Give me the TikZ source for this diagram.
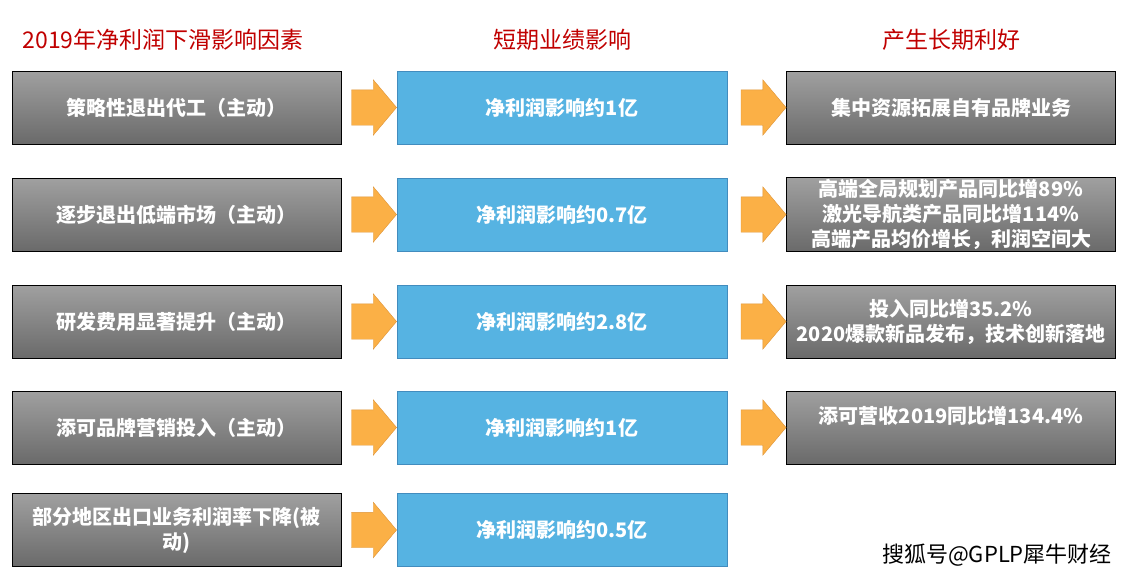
\documentclass[tikz,border=0pt]{standalone}
\usepackage{fontspec}
\setmainfont{Noto Sans CJK SC}
\usetikzlibrary{shapes,arrows.meta,calc,positioning}
\definecolor{headred}{RGB}{192,0,0}
\definecolor{greytop}{RGB}{160,160,160}
\definecolor{greybot}{RGB}{106,106,106}
\definecolor{skyfill}{RGB}{86,179,226}
\definecolor{skyedge}{RGB}{66,140,190}
\definecolor{orangefill}{RGB}{251,176,70}
\definecolor{orangeedge}{RGB}{222,148,56}
\tikzset{
    semithick,
    head/.style = {text=headred, font=\fontsize{23}{28}\selectfont},
    factor/.style = {rectangle, draw=black, top color=greytop, bottom color=greybot,
        minimum width=329pt, minimum height=73pt, inner sep=2pt, align=center,
        text=white, font=\fontsize{20}{25}\selectfont\bfseries},
    impact/.style = {rectangle, draw=skyedge, fill=skyfill,
        minimum width=330pt, minimum height=73pt, inner sep=2pt, align=center,
        text=white, font=\fontsize{20}{25}\selectfont\bfseries},
    fat/.style = {single arrow, draw=orangeedge, fill=orangefill, thin,
        minimum height=45pt, inner xsep=0pt, inner ysep=17.5pt,
        single arrow head extend=10pt, single arrow tip angle=100, anchor=tip},
    mark text/.style = {text=black, font=\fontsize{22}{26}\selectfont}
}

\begin{document}
\begin{tikzpicture}[x=1pt,y=-1pt]
    \useasboundingbox (0,0) rectangle (1140,581);
    \node (h1) at (163,40) [head] {2019年净利润下滑影响因素};
    \node (h2) at (562,40) [head] {短期业绩影响};
    \node (h3) at (951,40) [head] {产生长期利好};

    \node (c1) at (176.5,107.5) [factor] {策略性退出代工（主动）};
    \node (c2) at (176.5,214.5) [factor] {逐步退出低端市场（主动）};
    \node (c3) at (176.5,321.5) [factor] {研发费用显著提升（主动）};
    \node (c4) at (176.5,427.5) [factor] {添可品牌营销投入（主动）};
    \node (c5) at (176.5,530) [factor] {部分地区出口业务利润率下降(被\\动)};

    \node (s1) at (562,107.5) [impact] {净利润影响约1亿};
    \node (s2) at (562,214.5) [impact] {净利润影响约0.7亿};
    \node (s3) at (562,321.5) [impact] {净利润影响约2.8亿};
    \node (s4) at (562,427.5) [impact] {净利润影响约1亿};
    \node (s5) at (562,530) [impact] {净利润影响约0.5亿};

    \node (g1) at (951,107.5) [factor] {集中资源拓展自有品牌业务};
    \node (g2) at (951,214.5) [factor] {高端全局规划产品同比增89\%\\激光导航类产品同比增114\%\\高端产品均价增长，利润空间大};
    \node (g3) at (951,321.5) [factor] {投入同比增35.2\%\\2020爆款新品发布，技术创新落地};
    \node (g4) at (951,427.5) [factor] {添可营收2019同比增134.4\%\\\mbox{}};

    \node (a1) at (s1.west) [fat] {};
    \node (a2) at (s2.west) [fat] {};
    \node (a3) at (s3.west) [fat] {};
    \node (a4) at (s4.west) [fat] {};
    \node (a5) at (s5.west) [fat] {};
    \node (b1) at (g1.west) [fat] {};
    \node (b2) at (g2.west) [fat] {};
    \node (b3) at (g3.west) [fat] {};
    \node (b4) at (g4.west) [fat] {};

    \node (wm) at (997,555) [mark text] {搜狐号@GPLP犀牛财经};
\end{tikzpicture}
\end{document}
